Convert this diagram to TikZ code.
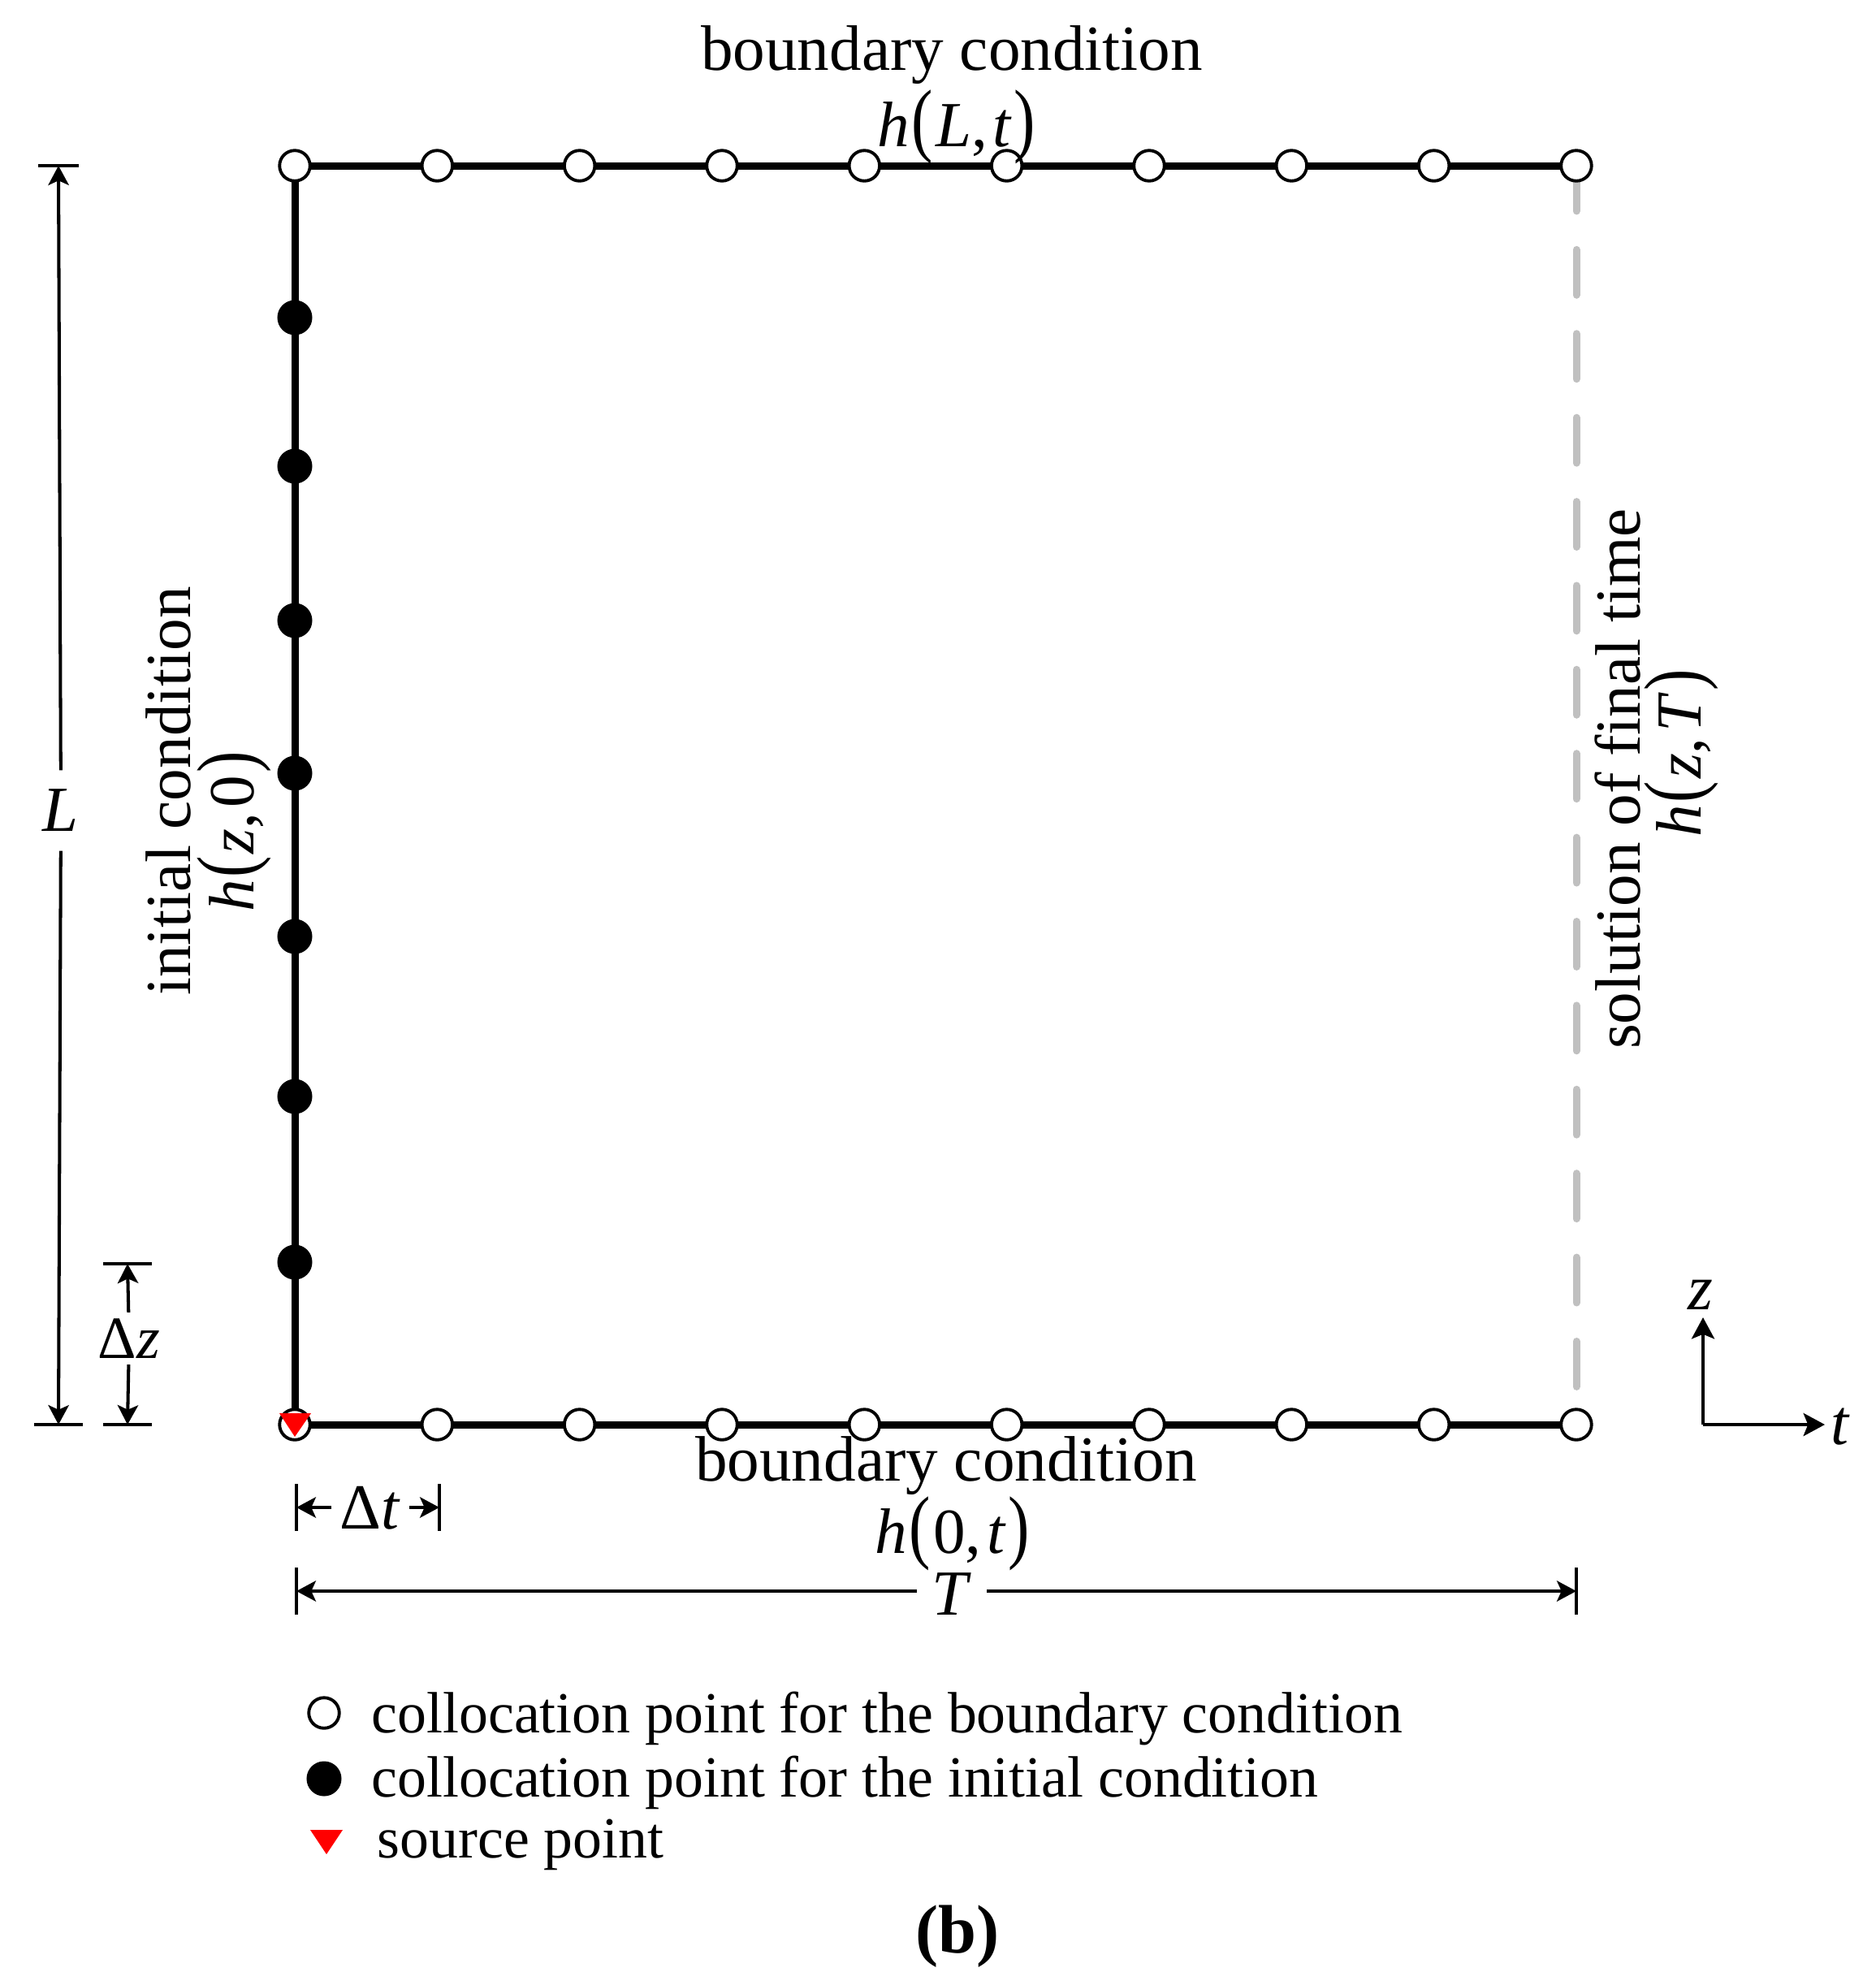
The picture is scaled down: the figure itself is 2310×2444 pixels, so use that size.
\documentclass[tikz,border=0pt]{standalone}
\usepackage{fontspec}
\setmainfont{Liberation Serif}
\usepackage{graphicx}
\usetikzlibrary{arrows.meta}
\definecolor{dashgray}{RGB}{192,192,192}
\newcommand\bpl{\kern0.03em\scalebox{1}[1.27]{(}\kern0.04em}
\newcommand\bpr{\kern0.04em\scalebox{1}[1.27]{)}}
\newcommand\cm{,\kern0.08em}
\begin{document}
\begin{tikzpicture}[x=0.01cm,y=-0.01cm,
  mainline/.style={line width=2.56pt},
  opendot/.style={circle,draw,fill=white,line width=1.1pt,minimum size=0.375cm,inner sep=0pt},
  fulldot/.style={circle,fill=black,minimum size=0.43cm,inner sep=0pt},
  dimline/.style={line width=1.15pt},
  dimtip/.style={-{Stealth[length=6.8pt,width=7.2pt,inset=1.6pt]}},
  axisline/.style={line width=1.15pt,-{Stealth[length=7.5pt,width=8pt,inset=1.6pt]}},
  lab/.style={font=\fontsize{22.5}{27}\selectfont,inner sep=0pt},
  leg/.style={font=\fontsize{20.4}{24}\selectfont,inner sep=0pt,anchor=base west}]
\useasboundingbox (0,0) rectangle (2310,2444);

% frame corners
\coordinate (O) at (363,1754);
\coordinate (TL) at (363,204);
\coordinate (TR) at (1941,204);
\coordinate (BR) at (1941,1754);

\draw[dashgray,line width=2.56pt,line cap=round,dash pattern=on 15.9pt off 13.5pt] (TR) -- (BR);
\draw[mainline] (TR) -- (TL) -- (O) -- (BR);

% collocation points
\foreach \i in {0,...,9} {
  \node[opendot] (t\i) at (363+\i*175.33,204) {};
  \node[opendot] (b\i) at (363+\i*175.33,1754) {};
}
\foreach \y [count=\i] in {391,574,764,952,1153,1350,1554}
  \node[fulldot] (f\i) at (363,\y) {};

% source point
\fill[red] (344,1740) -- (383,1740) -- (363,1769) -- cycle;

% labels
\node[lab,anchor=base] (topbc) at (1172,86) {boundary condition};
\node[lab,anchor=base] (topeq) at (1178,180) {\textit{h}\bpl\textit{L}\cm\textit{t}\bpr};
\node[lab,anchor=base] (botbc) at (1165,1823) {boundary condition};
\node[lab,anchor=base] (boteq) at (1173,1912) {\textit{h}\bpl0\cm\textit{t}\bpr};
\node[lab,rotate=90] (inic) at (207,974) {initial condition};
\node[lab,rotate=90] (inieq) at (288,1024) {\textit{h}\bpl\textit{z}\cm0\bpr};
\node[lab,rotate=90] (sol) at (1992,959) {solution of final time};
\node[lab,rotate=90] (soleq) at (2070,927) {\textit{h}\bpl\textit{z}\cm\textit{T}\bpr};

% dimension L
\coordinate (Lt) at (72,204);
\coordinate (Lb) at (72,1754);
\draw[dimline] (Lt) ++(-25,0) -- ++(50,0);
\draw[dimline] (Lb) ++(-30,0) -- ++(60,0);
\node[lab,inner ysep=0.23cm] (Llab) at (75,998) {\textit{L}};
\draw[dimline,dimtip] (Llab) -- (Lt);
\draw[dimline,dimtip] (Llab) -- (Lb);

% dimension dz
\coordinate (dzt) at (157,1556);
\coordinate (dzb) at (157,1754);
\draw[dimline] (dzt) ++(-30,0) -- ++(60,0);
\draw[dimline] (dzb) ++(-30,0) -- ++(60,0);
\node[lab,font=\fontsize{21}{25}\selectfont,inner ysep=0.07cm] (dzlab) at (159,1648) {Δ\textit{z}};
\draw[dimline,dimtip] (dzlab) -- (dzt);
\draw[dimline,dimtip] (dzlab) -- (dzb);

% dimension dt
\coordinate (dtl) at (365,1856);
\coordinate (dtr) at (541,1856);
\draw[dimline] (dtl) ++(0,-29) -- ++(0,58);
\draw[dimline] (dtr) ++(0,-29) -- ++(0,58);
\node[lab,inner xsep=0.1cm,anchor=base] (dtlab) at (456,1882) {Δ\textit{t}};
\draw[dimline,dimtip] (dtlab.west |- dtl) -- (dtl);
\draw[dimline,dimtip] (dtlab.east |- dtr) -- (dtr);

% dimension T
\coordinate (Tl) at (365,1959);
\coordinate (Tr) at (1941,1959);
\draw[dimline] (Tl) ++(0,-29) -- ++(0,58);
\draw[dimline] (Tr) ++(0,-29) -- ++(0,58);
\node[lab,inner xsep=0.18cm,anchor=base] (Tlab) at (1172,1988) {\textit{T}};
\draw[dimline,dimtip] (Tlab.west |- Tl) -- (Tl);
\draw[dimline,dimtip] (Tlab.east |- Tr) -- (Tr);

% axes
\coordinate (ax) at (2097,1754);
\coordinate (axz) at (2097,1622);
\coordinate (axt) at (2247,1754);
\draw[axisline] (ax) -- (axz);
\draw[axisline] (ax) -- (axt);
\node[lab] (zl) at (2094,1594) {\textit{z}};
\node[lab] (tl) at (2266,1757) {\textit{t}};

% legend
\node[opendot] (lg1) at (399,2109) {};
\node[fulldot] (lg2) at (399,2190) {};
\fill[red] (382,2253) -- (422,2253) -- (402,2283) -- cycle;
\node[leg] (lt1) at (457,2133) {collocation point for the boundary condition};
\node[leg] (lt2) at (457,2212) {collocation point for the initial condition};
\node[leg] (lt3) at (464,2287) {source point};

\node[font=\fontsize{24}{28}\selectfont\bfseries,inner sep=0pt,anchor=base] (cap) at (1179,2404) {(b)};
\end{tikzpicture}
\end{document}
